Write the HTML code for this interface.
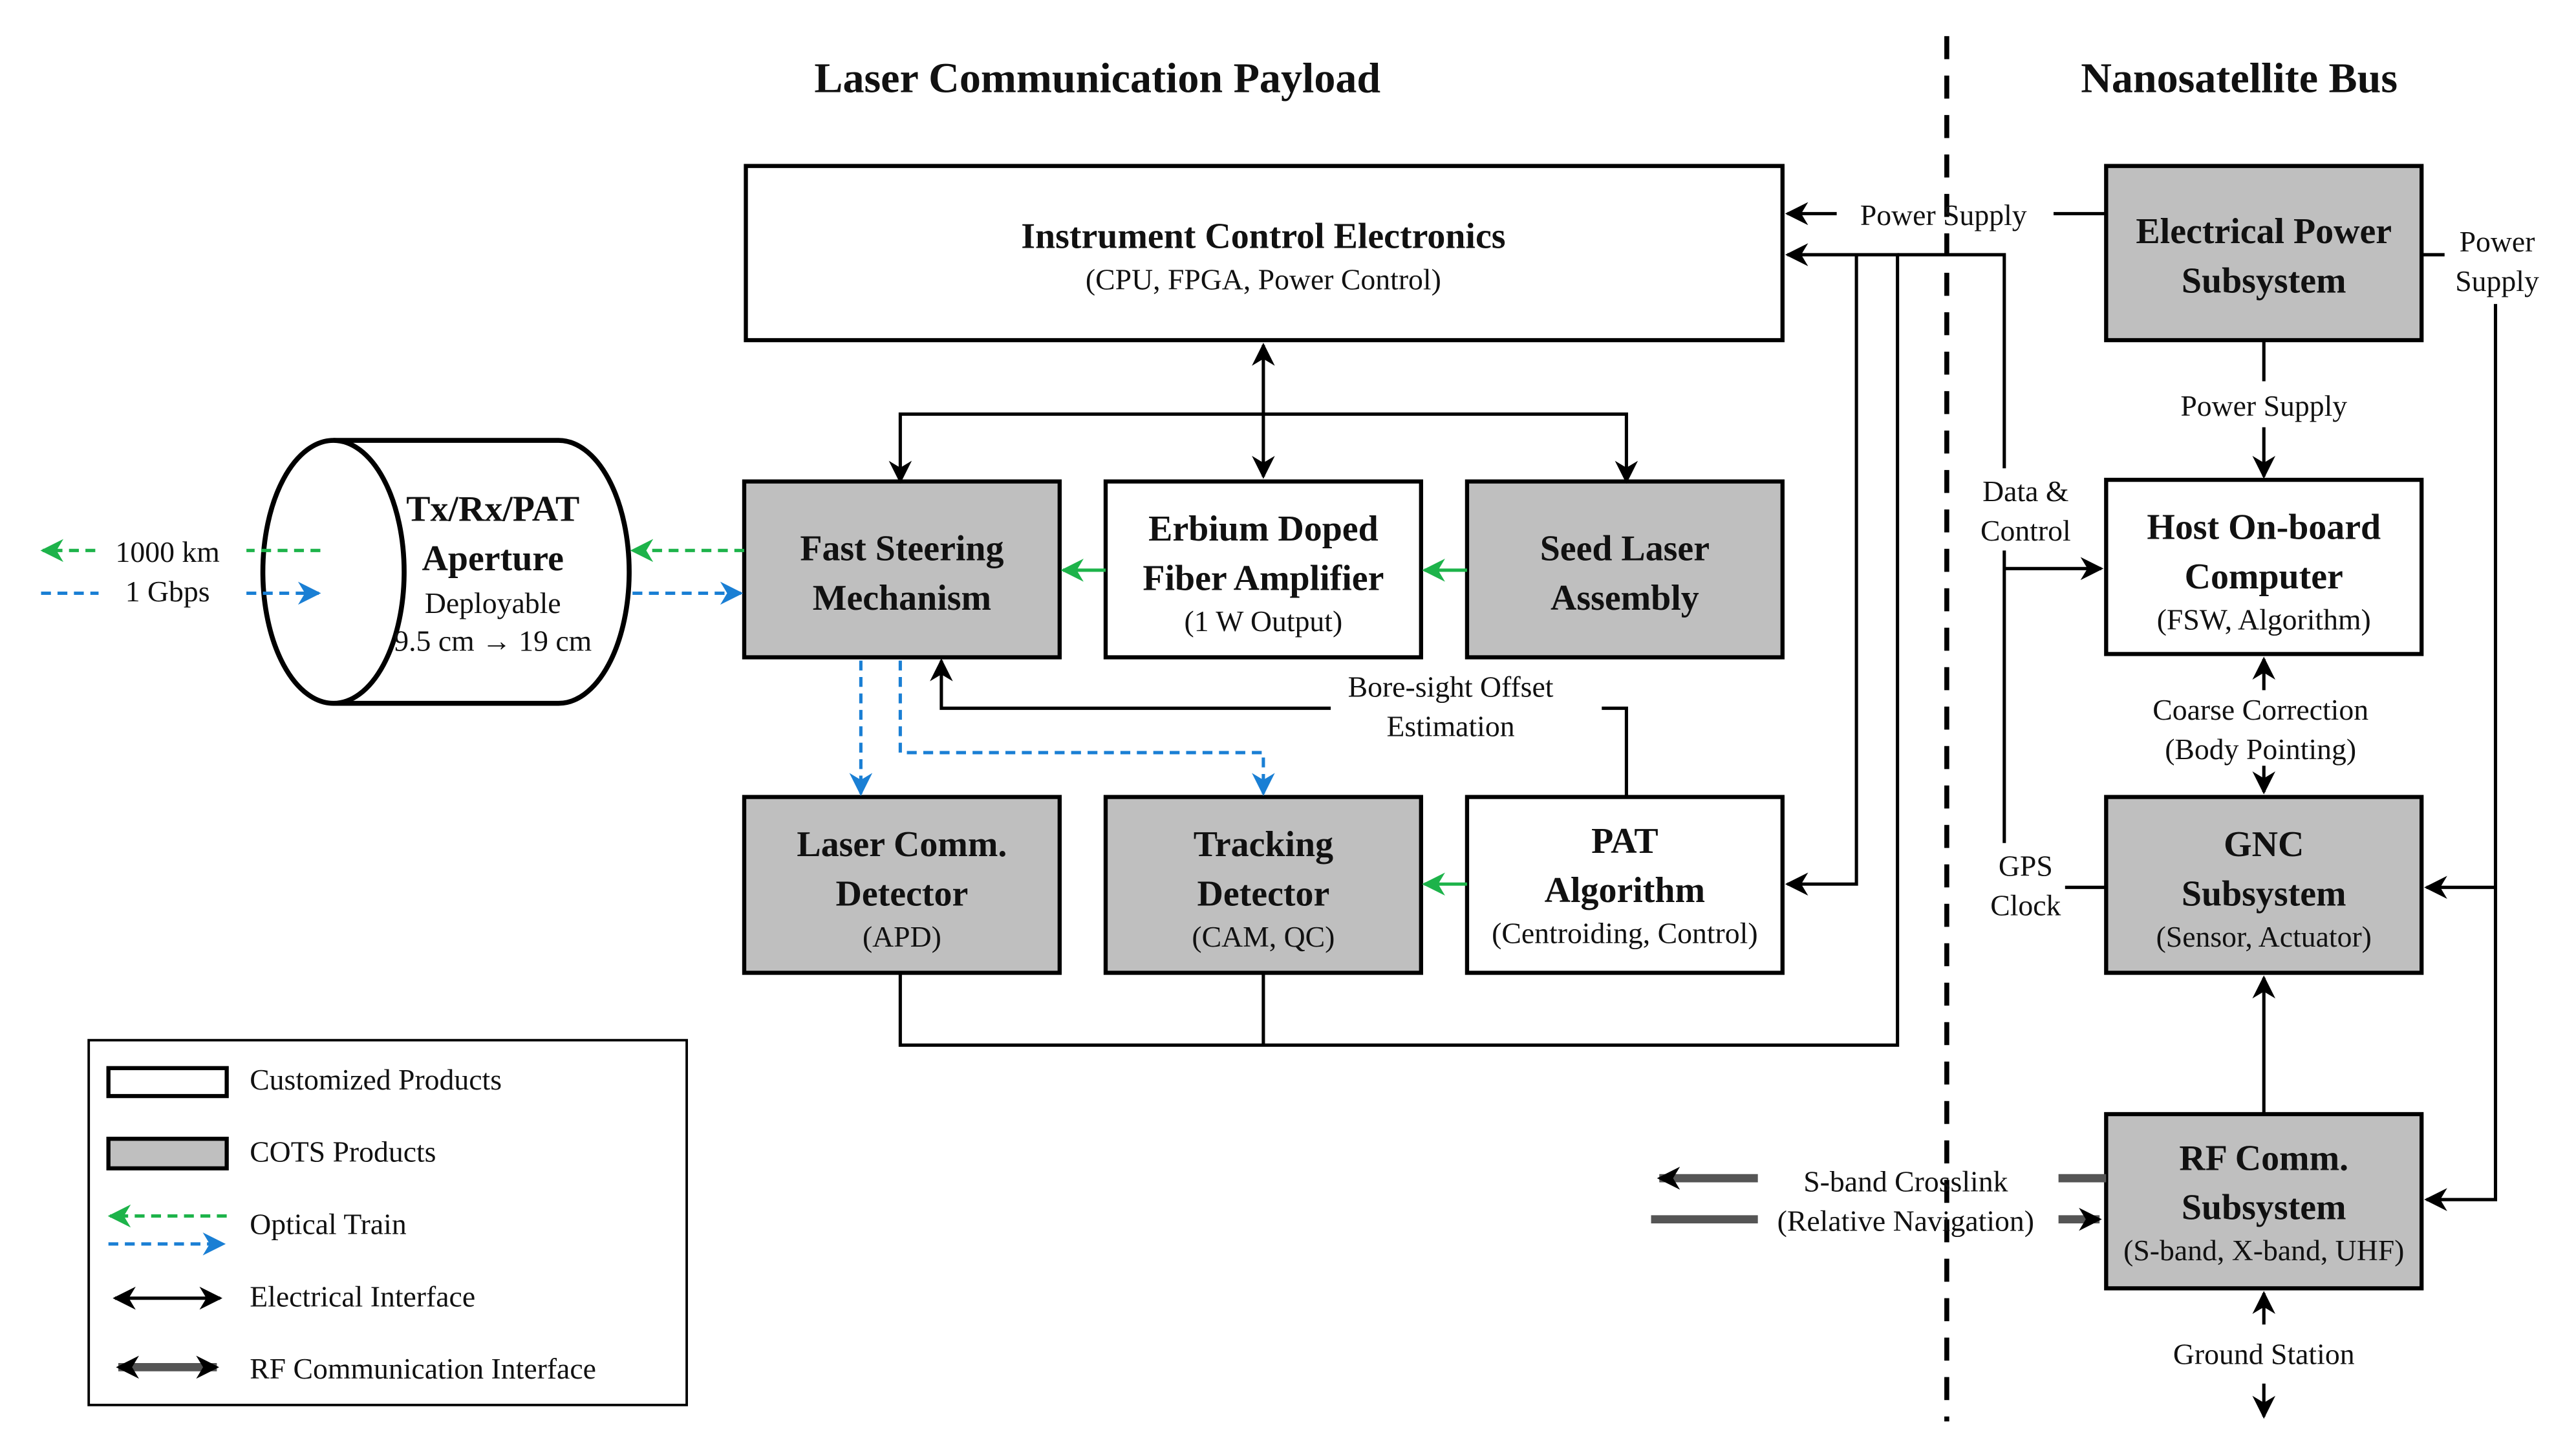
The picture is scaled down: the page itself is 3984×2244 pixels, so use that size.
<!DOCTYPE html>
<html><head><meta charset="utf-8"><style>html,body{margin:0;padding:0;background:#fff}svg{display:block}text{font-family:"Liberation Serif",serif;fill:#111}</style></head><body>
<svg width="3984" height="2244" viewBox="0 0 1568 883" preserveAspectRatio="none" xmlns="http://www.w3.org/2000/svg">
<defs>
<marker id="ab" viewBox="0 0 10 10" refX="9" refY="5" markerWidth="14" markerHeight="14" orient="auto-start-reverse" markerUnits="userSpaceOnUse"><path d="M0,0 L10,5 L0,10 L3,5z" fill="#000"/></marker>
<marker id="g" viewBox="0 0 10 10" refX="9" refY="5" markerWidth="14" markerHeight="14" orient="auto-start-reverse" markerUnits="userSpaceOnUse"><path d="M0,0 L10,5 L0,10 L3,5z" fill="#1db34a"/></marker>
<marker id="b" viewBox="0 0 10 10" refX="9" refY="5" markerWidth="14" markerHeight="14" orient="auto-start-reverse" markerUnits="userSpaceOnUse"><path d="M0,0 L10,5 L0,10 L3,5z" fill="#1a7fd4"/></marker>
</defs>
<g font-weight="bold" font-size="26" text-anchor="middle"><text x="668" y="56">Laser Communication Payload</text><text x="1363" y="56">Nanosatellite Bus</text></g>
<line x1="1185" y1="22" x2="1185" y2="865" stroke="#000" stroke-width="3" stroke-dasharray="14,10"/>
<g stroke="#000" stroke-width="2.5">
<rect x="454" y="101" width="631" height="106" fill="#fff"/>
<rect x="453" y="293" width="192" height="107" fill="#bfbfbf"/>
<rect x="673" y="293" width="192" height="107" fill="#fff"/>
<rect x="893" y="293" width="192" height="107" fill="#bfbfbf"/>
<rect x="453" y="485" width="192" height="107" fill="#bfbfbf"/>
<rect x="673" y="485" width="192" height="107" fill="#bfbfbf"/>
<rect x="893" y="485" width="192" height="107" fill="#fff"/>
<rect x="1282" y="101" width="192" height="106" fill="#bfbfbf"/>
<rect x="1282" y="292" width="192" height="106" fill="#fff"/>
<rect x="1282" y="485" width="192" height="107" fill="#bfbfbf"/>
<rect x="1282" y="678" width="192" height="106" fill="#bfbfbf"/>
<path d="M203,268 L340,268 A43,80 0 0 1 340,428 L203,428" fill="#fff" stroke-width="3"/>
<ellipse cx="203" cy="348" rx="43" ry="80" fill="#fff" stroke-width="3"/>
<rect x="54" y="633" width="364" height="222" fill="#fff" stroke-width="1.5"/>
<rect x="66" y="650" width="72" height="17" fill="#fff"/>
<rect x="66" y="693" width="72" height="18" fill="#bfbfbf"/>
</g>
<g text-anchor="middle">
<text x="769" y="151" font-size="22" font-weight="bold">Instrument  Control Electronics</text>
<text x="769" y="176" font-size="18">(CPU, FPGA, Power Control)</text>
<g font-size="22" font-weight="bold">
<text x="549" y="341">Fast Steering</text><text x="549" y="371">Mechanism</text>
<text x="769" y="329">Erbium Doped</text><text x="769" y="359">Fiber Amplifier</text>
<text x="989" y="341">Seed Laser</text><text x="989" y="371">Assembly</text>
<text x="549" y="521">Laser Comm.</text><text x="549" y="551">Detector</text>
<text x="769" y="521">Tracking</text><text x="769" y="551">Detector</text>
<text x="989" y="519">PAT</text><text x="989" y="549">Algorithm</text>
<text x="1378" y="148">Electrical Power</text><text x="1378" y="178">Subsystem</text>
<text x="1378" y="328">Host On-board</text><text x="1378" y="358">Computer</text>
<text x="1378" y="521">GNC</text><text x="1378" y="551">Subsystem</text>
<text x="1378" y="712">RF Comm.</text><text x="1378" y="742">Subsystem</text>
<text x="300" y="317">Tx/Rx/PAT</text><text x="300" y="347">Aperture</text>
</g>
<g font-size="18">
<text x="769" y="384">(1 W Output)</text>
<text x="549" y="576">(APD)</text><text x="769" y="576">(CAM, QC)</text>
<text x="989" y="574">(Centroiding, Control)</text>
<text x="1378" y="383">(FSW, Algorithm)</text>
<text x="1378" y="576">(Sensor, Actuator)</text>
<text x="1378" y="767">(S-band, X-band, UHF)</text>
<text x="300" y="373">Deployable</text><text x="300" y="396">9.5 cm → 19 cm</text>
<text x="883" y="424">Bore-sight Offset</text><text x="883" y="448">Estimation</text>
<text x="1183" y="137">Power Supply</text>
<text x="1378" y="253">Power Supply</text>
<text x="1520" y="153">Power</text><text x="1520" y="177">Supply</text>
<text x="1233" y="305">Data &amp;</text><text x="1233" y="329">Control</text>
<text x="1233" y="533">GPS</text><text x="1233" y="557">Clock</text>
<text x="1376" y="438">Coarse Correction</text><text x="1376" y="462">(Body Pointing)</text>
<text x="1160" y="725">S-band Crosslink</text><text x="1160" y="749">(Relative Navigation)</text>
<text x="1378" y="830">Ground Station</text>
<text x="102" y="342">1000 km</text><text x="102" y="366">1 Gbps</text>
</g></g>
<g font-size="18"><text x="152" y="663">Customized Products</text><text x="152" y="707">COTS Products</text><text x="152" y="751">Optical Train</text><text x="152" y="795">Electrical Interface</text><text x="152" y="839">RF Communication Interface</text></g>
<g stroke="#000" stroke-width="2" fill="none">
<line x1="769" y1="210" x2="769" y2="290" marker-start="url(#ab)" marker-end="url(#ab)"/>
<path d="M548,293 L548,252 L990,252 L990,293" marker-start="url(#ab)" marker-end="url(#ab)"/>
<path d="M990,485 L990,431 L975,431"/>
<path d="M810,431 L573,431 L573,402" marker-end="url(#ab)"/>
<path d="M548,592 L548,636 L1155,636 L1155,155 L1088,155" marker-end="url(#ab)"/>
<line x1="769" y1="592" x2="769" y2="636"/>
<path d="M1130,155 L1130,538 L1088,538" marker-end="url(#ab)"/>
<path d="M1155,155 L1220,155 L1220,285"/>
<path d="M1220,335 L1220,513"/>
<path d="M1220,346 L1279,346" marker-end="url(#ab)"/>
<line x1="1257" y1="540" x2="1282" y2="540"/>
<line x1="1282" y1="130" x2="1250" y2="130"/>
<line x1="1118" y1="130" x2="1088" y2="130" marker-end="url(#ab)"/>
<line x1="1378" y1="207" x2="1378" y2="232"/>
<line x1="1378" y1="260" x2="1378" y2="290" marker-end="url(#ab)"/>
<line x1="1378" y1="420" x2="1378" y2="401" marker-end="url(#ab)"/>
<line x1="1378" y1="466" x2="1378" y2="482" marker-end="url(#ab)"/>
<line x1="1378" y1="678" x2="1378" y2="595" marker-end="url(#ab)"/>
<path d="M1474,155 L1488,155"/>
<path d="M1519,185 L1519,730 L1477,730" marker-end="url(#ab)"/>
<line x1="1519" y1="540" x2="1477" y2="540" marker-end="url(#ab)"/>
<line x1="1378" y1="806" x2="1378" y2="787" marker-end="url(#ab)"/>
<line x1="1378" y1="842" x2="1378" y2="862" marker-end="url(#ab)"/>
<line x1="70" y1="790" x2="134" y2="790" marker-start="url(#ab)" marker-end="url(#ab)"/>
</g>
<g stroke="#555" stroke-width="5" fill="none">
<line x1="1070" y1="717" x2="1010" y2="717" marker-end="url(#ab)"/>
<line x1="1253" y1="717" x2="1282" y2="717"/>
<line x1="1005" y1="742" x2="1070" y2="742"/>
<line x1="1253" y1="742" x2="1278" y2="742" marker-end="url(#ab)"/>
<line x1="72" y1="832" x2="132" y2="832" marker-start="url(#ab)" marker-end="url(#ab)"/>
</g>
<g stroke-width="2" fill="none">
<line x1="893" y1="347" x2="867" y2="347" stroke="#1db34a" marker-end="url(#g)"/>
<line x1="673" y1="347" x2="647" y2="347" stroke="#1db34a" marker-end="url(#g)"/>
<line x1="893" y1="538" x2="867" y2="538" stroke="#1db34a" marker-end="url(#g)"/>
<line x1="453" y1="335" x2="385" y2="335" stroke="#1db34a" stroke-dasharray="6,4" marker-end="url(#g)"/>
<line x1="385" y1="361" x2="451" y2="361" stroke="#1a7fd4" stroke-dasharray="6,4" marker-end="url(#b)"/>
<line x1="195" y1="335" x2="150" y2="335" stroke="#1db34a" stroke-dasharray="6,4"/>
<line x1="58" y1="335" x2="26" y2="335" stroke="#1db34a" stroke-dasharray="6,4" marker-end="url(#g)"/>
<line x1="25" y1="361" x2="60" y2="361" stroke="#1a7fd4" stroke-dasharray="6,4"/>
<line x1="150" y1="361" x2="194" y2="361" stroke="#1a7fd4" stroke-dasharray="6,4" marker-end="url(#b)"/>
<line x1="524" y1="402" x2="524" y2="483" stroke="#1a7fd4" stroke-dasharray="6,4" marker-end="url(#b)"/>
<path d="M548,402 L548,458 L769,458 L769,483" stroke="#1a7fd4" stroke-dasharray="6,4" marker-end="url(#b)"/>
<line x1="138" y1="740" x2="67" y2="740" stroke="#1db34a" stroke-dasharray="6,4" marker-end="url(#g)"/>
<line x1="66" y1="757" x2="136" y2="757" stroke="#1a7fd4" stroke-dasharray="6,4" marker-end="url(#b)"/>
</g>
</svg>
</body></html>
